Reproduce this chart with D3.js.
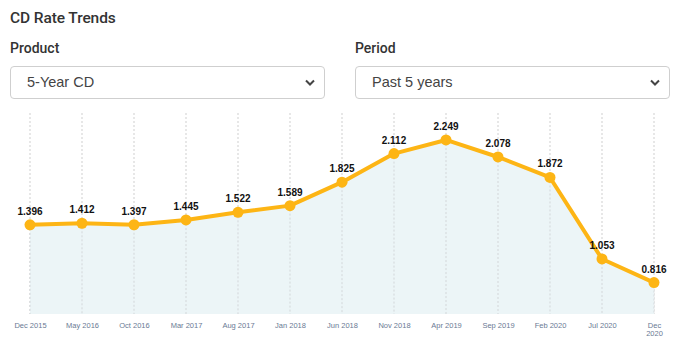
<!DOCTYPE html>
<html>
<head>
<meta charset="utf-8">
<script src="https://cdn.jsdelivr.net/npm/d3@7/dist/d3.min.js"></script>
<style>
  html, body { margin: 0; padding: 0; background: #fff; }
  body { width: 679px; height: 349px; position: relative; overflow: hidden; font-family: "Liberation Sans", Arial, sans-serif; }
  .title { position: absolute; left: 10px; top: 9px; font-family: Roboto, "Noto Sans", sans-serif; font-weight: 500; font-size: 15.5px; color: #333; letter-spacing: -0.1px; }
  .lbl { position: absolute; top: 40px; font-family: Roboto, "Noto Sans", sans-serif; font-weight: 500; font-size: 14px; color: #333; }
  .sel { position: absolute; top: 66px; height: 33px; box-sizing: border-box; border: 1px solid #cfcfcf; border-radius: 4px; background: #fff; font-family: "Liberation Sans", Arial, sans-serif; font-size: 14.5px; color: #444; line-height: 31px; padding-left: 16px; }
  .sel svg { position: absolute; right: 9px; top: 12px; }
  #chart { position: absolute; left: 0; top: 0; }
</style>
</head>
<body>
<div class="title">CD Rate Trends</div>
<div class="lbl" style="left:10px">Product</div>
<div class="lbl" style="left:355px">Period</div>
<div class="sel" style="left:10px;width:315px">5-Year CD<svg width="10" height="8"><path d="M1,1.5 L5,5.5 L9,1.5" fill="none" stroke="#444" stroke-width="2"/></svg></div>
<div class="sel" style="left:355px;width:315px">Past 5 years<svg width="10" height="8"><path d="M1,1.5 L5,5.5 L9,1.5" fill="none" stroke="#444" stroke-width="2"/></svg></div>
<svg id="chart" width="679" height="349"></svg>
<script>
// Five-year CD average rates, sampled every five months
const periods = ["Dec 2015", "May 2016", "Oct 2016", "Mar 2017", "Aug 2017", "Jan 2018",
  "Jun 2018", "Nov 2018", "Apr 2019", "Sep 2019", "Feb 2020", "Jul 2020", "Dec 2020"];
const rates = [1.396, 1.412, 1.397, 1.445, 1.522, 1.589, 1.825, 2.112, 2.249, 2.078, 1.872, 1.053, 0.816];
const rateDomain = [0.5, 2.52];

const svg = d3.select("#chart");
const plotTop = 113, plotBottom = 314;

const x = d3.scalePoint().domain(periods).range([30, 654]);
const y = d3.scaleLinear().domain(rateDomain).range([plotBottom, plotTop]);

const data = periods.map((p, i) => ({ p, v: rates[i] }));

// vertical dotted grid lines at each period
svg.append("g").selectAll("line").data(periods).join("line")
  .attr("x1", d => x(d)).attr("x2", d => x(d))
  .attr("y1", plotTop).attr("y2", plotBottom)
  .attr("stroke", "#cfcfcf").attr("stroke-width", 1)
  .attr("stroke-dasharray", "2,2");

// shaded area under the line
const area = d3.area().x(d => x(d.p)).y0(y(rateDomain[0])).y1(d => y(d.v));
svg.append("path").datum(data).attr("d", area).attr("fill", "#ebf4f7").attr("opacity", 0.95);

// grid drawn again faintly over the area so it shows through
svg.append("g").selectAll("line").data(data).join("line")
  .attr("x1", d => x(d.p)).attr("x2", d => x(d.p))
  .attr("y1", d => y(d.v)).attr("y2", plotBottom)
  .attr("stroke", "#d3d7da").attr("stroke-width", 1)
  .attr("stroke-dasharray", "2,2");

// rate line
const line = d3.line().x(d => x(d.p)).y(d => y(d.v));
svg.append("path").datum(data).attr("d", line)
  .attr("fill", "none").attr("stroke", "#fdb515").attr("stroke-width", 4)
  .attr("stroke-linejoin", "round");

// points
svg.append("g").selectAll("circle").data(data).join("circle")
  .attr("cx", d => x(d.p)).attr("cy", d => y(d.v)).attr("r", 5.5)
  .attr("fill", "#fdb515");

// value labels
svg.append("g").selectAll("text").data(data).join("text")
  .attr("x", d => x(d.p)).attr("y", d => y(d.v) - 10)
  .attr("text-anchor", "middle")
  .attr("font-family", "Liberation Sans, Arial, sans-serif")
  .attr("font-size", 10).attr("font-weight", "bold").attr("fill", "#111")
  .text(d => d.v.toFixed(3));

// x axis labels
const xAxis = d3.axisBottom(x).tickSize(0).tickPadding(0);
const gx = svg.append("g").attr("transform", `translate(0,${plotBottom + 9})`).call(xAxis);
gx.select(".domain").remove();
gx.selectAll("text")
  .attr("font-family", "Liberation Sans, Arial, sans-serif")
  .attr("font-size", 7.5).attr("fill", "#6a7a94")
  .attr("dy", "0.7em")
  .each(function (d, i) {
    if (i === periods.length - 1) {
      const t = d3.select(this);
      const parts = d.split(" ");
      t.text(null);
      t.append("tspan").attr("x", 0).text(parts[0]);
      t.append("tspan").attr("x", 0).attr("dy", "1.0em").text(parts[1]);
    }
  });
</script>
</body>
</html>
